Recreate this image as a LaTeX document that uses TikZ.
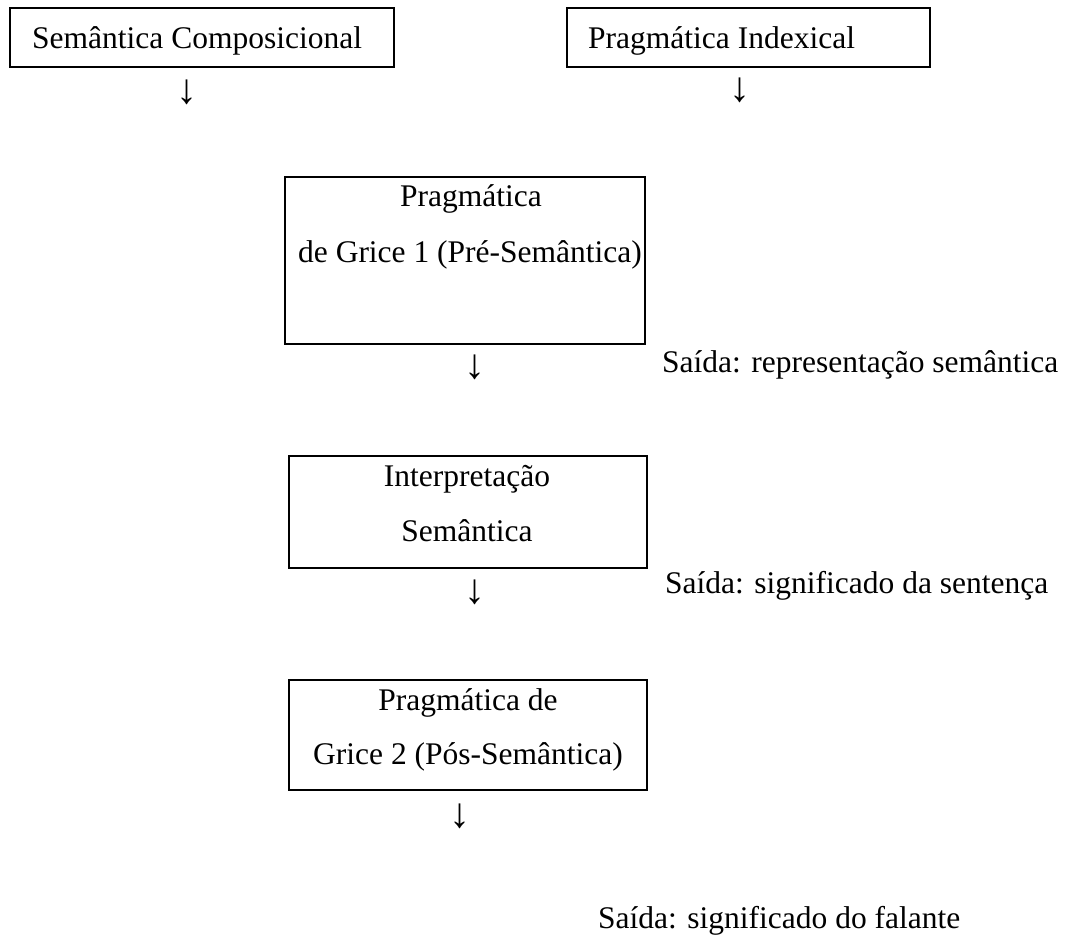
\documentclass[tikz,border=0pt]{standalone}
\usepackage{fontspec}
\setmainfont{Liberation Serif}
\begin{document}
\begin{tikzpicture}[x=1pt,y=-1pt,
  box/.style={draw=black,line width=1.6pt},
  txt/.style={inner sep=0pt,anchor=base,font=\fontsize{31.5}{38}\selectfont},
  lefttxt/.style={txt,anchor=base west},
  arr/.style={inner sep=0pt,anchor=center,font=\fontsize{42}{48}\selectfont}]
\useasboundingbox (0,0) rectangle (1067,938);
% boxes
\draw[box] (10,8) rectangle (394,67);
\draw[box] (567,8) rectangle (930,67);
\draw[box] (285,177) rectangle (645,344);
\draw[box] (289,456) rectangle (647,568);
\draw[box] (289,680) rectangle (647,790);
% box texts
\node[lefttxt] (t1) at (32,48) {Semântica Composicional};
\node[lefttxt] (t2) at (588,48) {Pragmática Indexical};
\node[txt] (t3a) at (471,206) {Pragmática};
\node[txt] (t3b) at (470,262) {de Grice 1 (Pré-Semântica)};
\node[txt] (t4a) at (467,486) {Interpretação};
\node[txt] (t4b) at (467,541) {Semântica};
\node[txt] (t5a) at (468,710) {Pragmática de};
\node[txt] (t5b) at (468,764) {Grice 2 (Pós-Semântica)};
% arrows
\node[arr] (a1) at (187,92) {↓};
\node[arr] (a2) at (740,90) {↓};
\node[arr] (a3) at (475,367) {↓};
\node[arr] (a4) at (475,592) {↓};
\node[arr] (a5) at (460,816) {↓};
% outputs
\node[lefttxt] (s1) at (662,372) {Saída: representação semântica};
\node[lefttxt] (s2) at (665,593) {Saída: significado da sentença};
\node[lefttxt] (s3) at (598,928) {Saída: significado do falante};
\end{tikzpicture}
\end{document}
